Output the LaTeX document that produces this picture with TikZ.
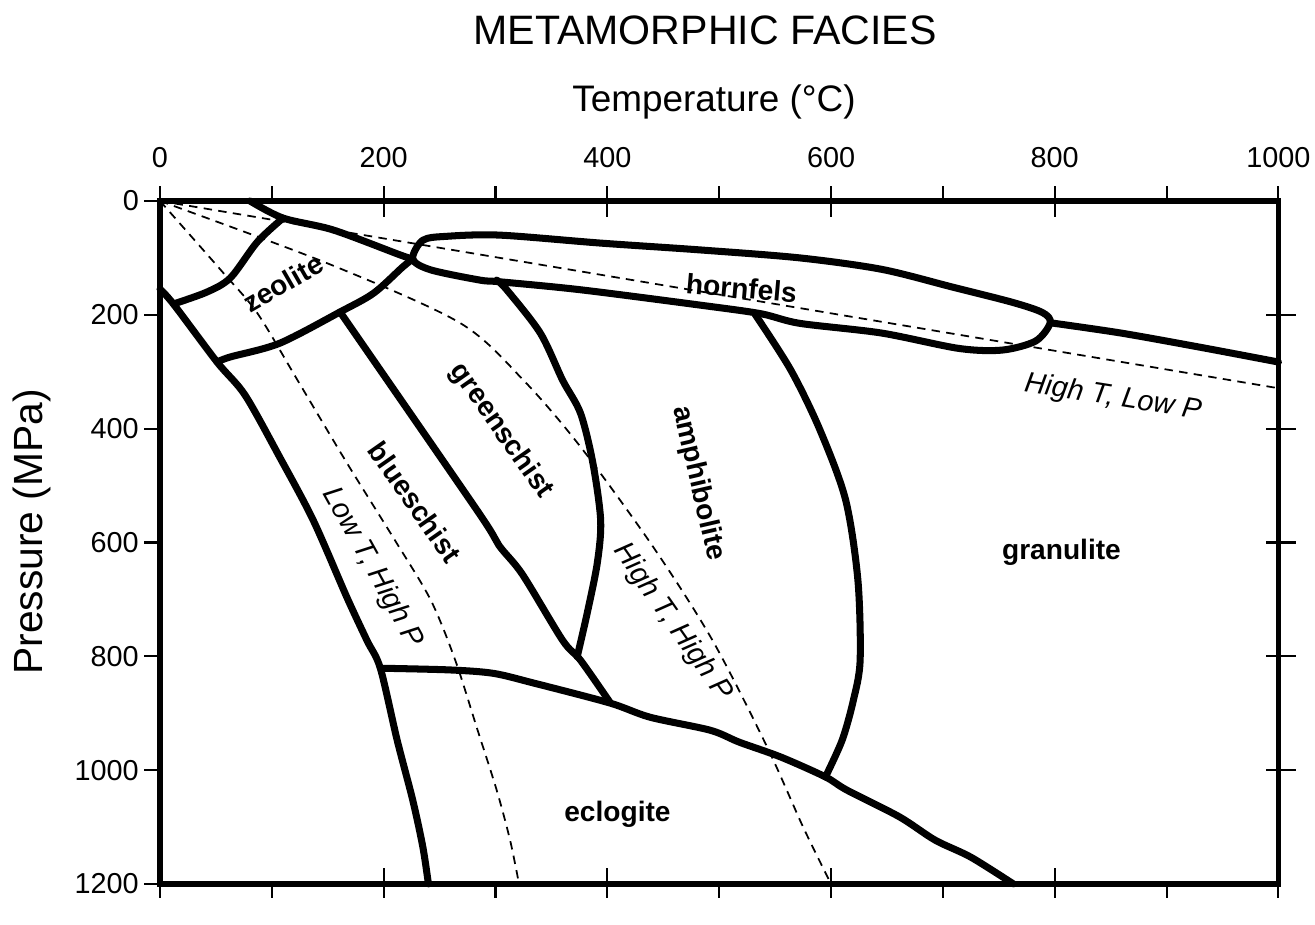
\documentclass[tikz,border=0pt]{standalone}
\usepackage{fontspec}
\setmainfont{Liberation Sans}
\usetikzlibrary{positioning}

\begin{document}
\begin{tikzpicture}[
        facies/.style={line width=2pt, line cap=round, line join=round},
        geotherm/.style={line width=0.5pt, dash pattern=on 2.4pt off 1.8pt},
        tickline/.style={line width=0.6pt},
        faciesname/.style={font=\bfseries\fontsize{8}{9}\selectfont, inner sep=1pt},
        regime/.style={font=\itshape\fontsize{8.2}{9}\selectfont, inner sep=1pt},
        ticklabel/.style={font=\fontsize{8.2}{9}\selectfont, inner sep=1pt}
    ]
        \useasboundingbox (0,0) rectangle (13.15,-9.25);
        \node[font=\fontsize{11.7}{13}\selectfont] (title) at (7.05,-0.30) {METAMORPHIC FACIES};
        \node[font=\fontsize{10.5}{12}\selectfont] (templabel) at (7.14,-1.02) {Temperature (°C)};
        \node[font=\fontsize{11.6}{13}\selectfont, rotate=90] (preslabel) at (0.32,-5.32) {Pressure (MPa)};

        % data coordinates: x = temperature (C), y = pressure (MPa), downwards
        \begin{scope}[shift={(1.60,-2.01)}, x=0.01118cm, y=-0.00569cm]
        % ticks and scale labels
        \foreach \tval in {0,100,...,1000} {
            \draw[tickline] (\tval,0) -- ++(0,0.15cm);
            \draw[tickline] (\tval,1200) -- ++(0,-0.14cm);
        }
        \foreach \tval in {200,400,...,800} {
            \draw[tickline] (\tval,0) -- ++(0,-0.16cm);
            \draw[tickline] (\tval,1200) -- ++(0,0.16cm);
        }
        \foreach \pval in {0,200,...,1200}
            \draw[tickline] (0,\pval) -- ++(-0.16cm,0);
        \foreach \pval in {200,400,...,1000}
            \draw[tickline] (1000,\pval) ++(-0.12cm,0) -- ++(0.30cm,0);
        \foreach \tval in {0,200,...,1000}
            \node[ticklabel, yshift=0.43cm] (ttop\tval) at (\tval,0) {\tval};
        \foreach \pval in {0,200,...,1200}
            \node[ticklabel, anchor=east, xshift=-0.17cm] (pleft\pval) at (0,\pval) {\pval};

        % geotherms
        \draw[geotherm] (0,0) -- (1000,329);
        \draw[geotherm] plot[smooth] coordinates {(0,0) (149,109) (268,214) (325,315) (376,432) (441,608) (494,772) (543,960) (575,1100) (600,1200)};
        \draw[geotherm] plot[smooth] coordinates {(0,0) (56,125) (87,197) (123,315) (167,460) (210,596) (242,701) (264,807) (284,930) (301,1035) (313,1123) (321,1200)};

        % facies boundaries
        \coordinate (hinge) at (226,102);
        \coordinate (zeotop) at (110,30);
        \coordinate (zeoleft) at (12,181);
        \coordinate (zeobase) at (51,283);
        \coordinate (blueknee) at (161,195);
        \coordinate (eclostart) at (197,821);
        \coordinate (loopend) at (796,214);

        \draw[facies] plot[smooth] coordinates {(80.5,0) (zeotop) (155,51) (215,95) (hinge)};
        \draw[facies] plot[smooth cycle, tension=0.5] coordinates {(hinge) (235,69) (257,62) (304,60) (394,74) (483,86) (572,100) (645,120) (708,151) (762,178) (789,196) (loopend) (783,246) (753,262) (714,259) (645,232) (572,215) (537,198) (483,183) (376,156) (304,142) (286,139) (242,121)};
        \draw[facies] plot[smooth] coordinates {(loopend) (859,232) (930,257) (1000,283)};
        \draw[facies] plot[smooth] coordinates {(zeotop) (87,72) (63,135) (42,160) (zeoleft)};
        \draw[facies] plot[smooth] coordinates {(0,155) (zeoleft) (zeobase) (76,341) (107,450) (137,561) (167,696) (185,772) (eclostart) (212,947) (226,1053) (235,1135) (240,1200)};
        \draw[facies] plot[smooth] coordinates {(zeobase) (63,274) (107,250) (blueknee) (191,162) (217,116) (hinge)};
        \draw[facies] plot[smooth] coordinates {(blueknee) (284,545) (303,605) (324,656) (360,772) (376,807) (402,880)};
        \draw[facies] plot[smooth] coordinates {(301,139) (310,156) (340,232) (360,315) (376,373) (387,460) (394,561) (391,636) (382,724) (373,801)};
        \draw[facies] plot[smooth] coordinates {(532,199) (564,297) (590,402) (613,525) (624,666) (626,807) (620,877) (610,947) (595,1012)};
        \draw[facies] plot[smooth] coordinates {(eclostart) (259,824) (298,830) (334,847) (402,882) (438,907) (492,930) (518,951) (555,977) (595,1012) (614,1035) (661,1082) (693,1123) (725,1153) (763,1200)};

        % frame
        \draw[line width=1.6pt] (0,0) rectangle (1000,1200);

        % facies names
        \node[faciesname, rotate=30] (zeolite) at (110,144) {zeolite};
        \node[faciesname, rotate=-5] (hornfels) at (520,153) {hornfels};
        \node[faciesname, rotate=-55] (greenschist) at (305,404) {greenschist};
        \node[faciesname, rotate=-55] (blueschist) at (228,529) {blueschist};
        \node[faciesname, rotate=-77] (amphibolite) at (481,496) {amphibolite};
        \node[faciesname] (granulite) at (806,617) {granulite};
        \node[faciesname] (eclogite) at (409,1077) {eclogite};
        \node[regime, rotate=-61] (ltgrad) at (190,645) {Low T, High P};
        \node[regime, rotate=-55] (hthpgrad) at (458,740) {High T, High P};
        \node[regime, rotate=-9] (htlpgrad) at (852,346) {High T, Low P};
        \end{scope}
    \end{tikzpicture}
\end{document}
